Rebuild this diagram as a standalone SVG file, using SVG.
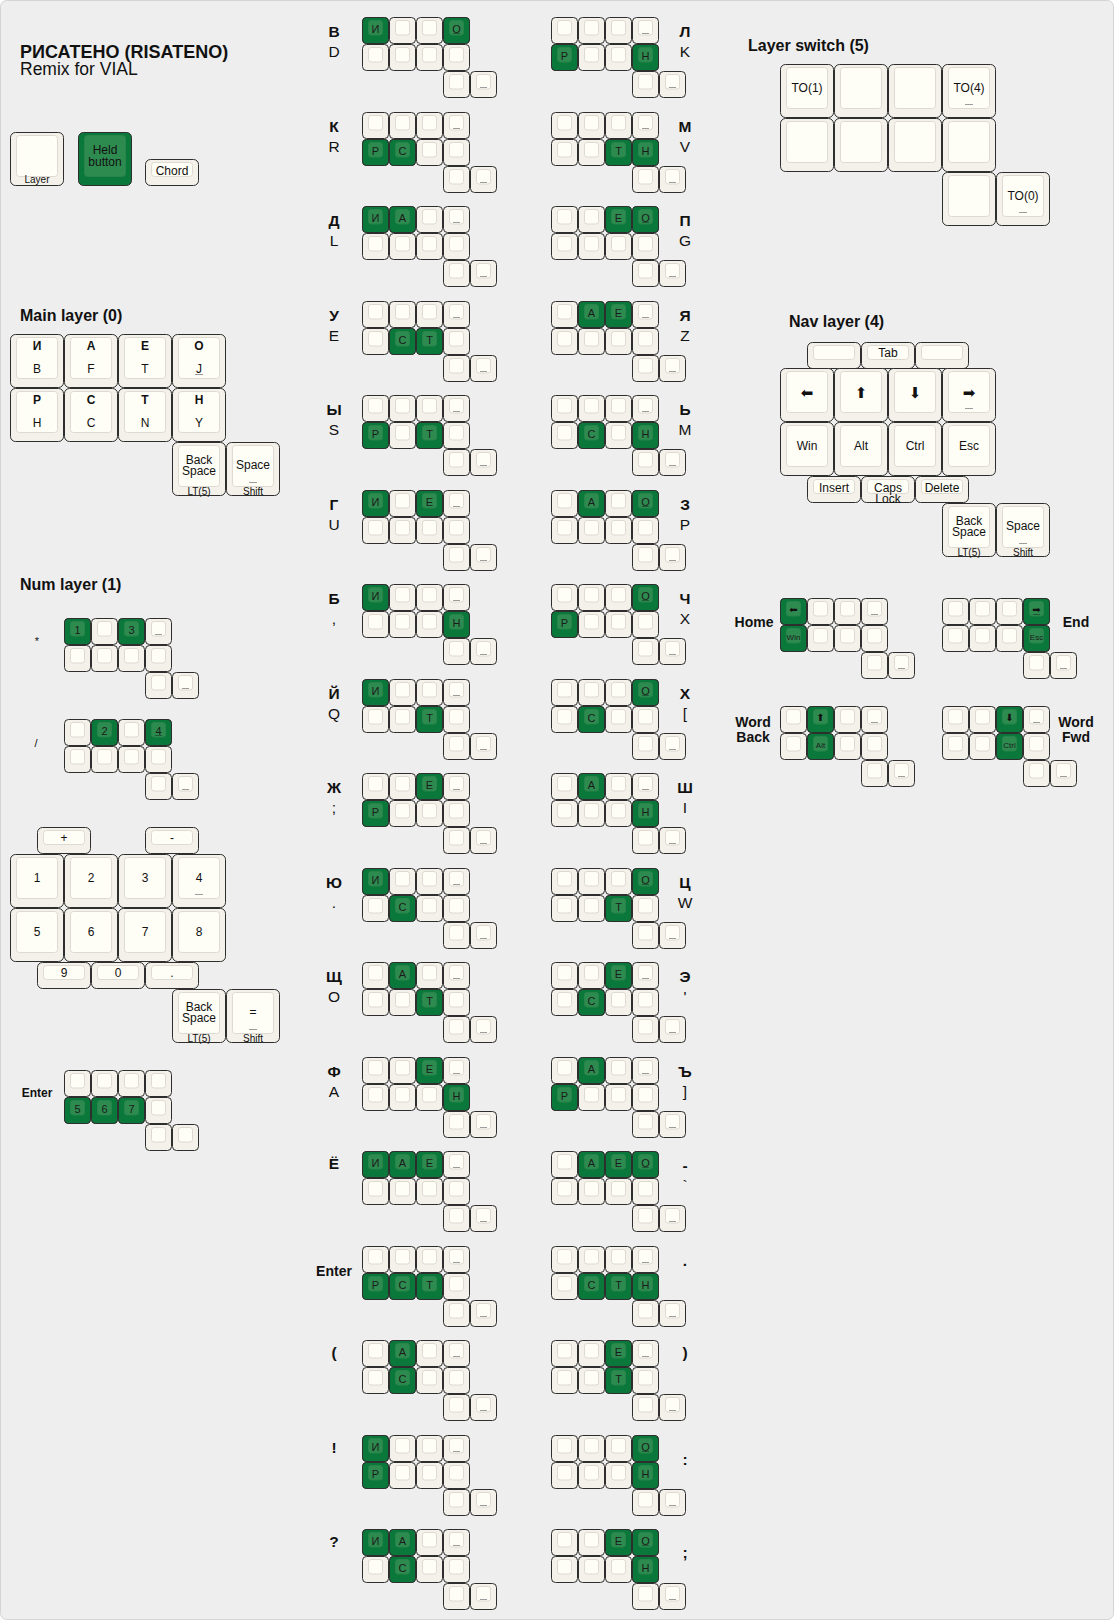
<svg xmlns="http://www.w3.org/2000/svg" width="1114" height="1620" viewBox="0 0 1114 1620">
<style>
text{font-family:"Liberation Sans",Arial,sans-serif;fill:#111}
.o{fill:#f4f1ea;stroke:#2e2e2e;stroke-width:1}
.i{fill:#fffef6;stroke:#dedad1;stroke-width:1}
.go{fill:#0a783b;stroke:#2e2e2e;stroke-width:1}
.gi{fill:#2e8b50;stroke:#27844a;stroke-width:1}
.bar{stroke:#9c9c9c;stroke-width:1}
.gbar{stroke:#1f5a35;stroke-width:1}
.h{font-size:16px;font-weight:bold}
.cl{font-size:15.5px;text-anchor:middle}
.cb{font-size:15.5px;font-weight:bold;text-anchor:middle}
.nb{font-size:14px;font-weight:bold;text-anchor:middle}
.k{font-size:12px;text-anchor:middle}
.kb{font-size:12px;font-weight:bold;text-anchor:middle}
.s{font-size:11px;text-anchor:middle;fill:#1b1b1b}
.f{font-size:10px;text-anchor:middle}
.t{font-size:8px;text-anchor:middle;fill:#1b1b1b}
.ar{font-family:"DejaVu Sans",sans-serif;text-anchor:middle}
.al{font-size:15px}
.as{font-size:10px}
</style>
<defs>
<g id="sk"><rect class="o" x="0.5" y="0.5" width="26" height="26" rx="4"/><rect class="i" x="6.5" y="3.5" width="14" height="14.5" rx="2.5"/></g>
<g id="skb"><use href="#sk"/><line class="bar" x1="10" y1="16.5" x2="17" y2="16.5"/></g>
<g id="sg"><rect class="go" x="0.5" y="0.5" width="26" height="26" rx="4"/><rect class="gi" x="6.5" y="3.5" width="14" height="14.5" rx="2.5"/></g>
<g id="sgb"><use href="#sg"/><line class="gbar" x1="10" y1="16.5" x2="17" y2="16.5"/></g>
<g id="lk"><rect class="o" x="0.5" y="0.5" width="53" height="53" rx="5"/><rect class="i" x="6.5" y="3.5" width="41" height="41" rx="3"/></g>
<g id="lkb"><use href="#lk"/><line class="bar" x1="23" y1="40.5" x2="31" y2="40.5"/></g>
<g id="lg"><rect class="go" x="0.5" y="0.5" width="53" height="53" rx="5"/><rect class="gi" x="6.5" y="3.5" width="41" height="41" rx="3"/></g>
<g id="hk"><rect class="o" x="0.5" y="0.5" width="53" height="26" rx="5"/><rect class="i" x="6.5" y="3.5" width="41" height="14" rx="3"/></g>
<g id="cn">
<use href="#sk"/><use href="#sk" x="27"/><use href="#sk" x="54"/><use href="#sk" x="81"/>
<use href="#sk" y="27"/><use href="#sk" x="27" y="27"/><use href="#sk" x="54" y="27"/><use href="#sk" x="81" y="27"/>
<use href="#sk" x="81" y="54"/><use href="#sk" x="108" y="54"/>
</g>
<g id="cb">
<use href="#sk"/><use href="#sk" x="27"/><use href="#sk" x="54"/><use href="#skb" x="81"/>
<use href="#sk" y="27"/><use href="#sk" x="27" y="27"/><use href="#sk" x="54" y="27"/><use href="#sk" x="81" y="27"/>
<use href="#sk" x="81" y="54"/><use href="#skb" x="108" y="54"/>
</g>
</defs>

<rect x="0.5" y="0.5" width="1113" height="1619" rx="6" fill="#eeeeee" stroke="#d4d4d4"/>

<g id="title">
<text x="20" y="58" style="font-size:18px;font-weight:bold">РИСАТЕНО (RISATENO)</text>
<text x="20" y="75" style="font-size:17.5px">Remix for VIAL</text>
</g>

<g id="legend">
<g id="legend-layer"><use href="#lk" x="10" y="132"/><text class="f" x="37" y="183">Layer</text></g>
<g id="legend-held"><use href="#lg" x="78" y="132"/><text class="k" x="105" y="154">Held</text><text class="k" x="105" y="166">button</text></g>
<g id="legend-chord"><use href="#hk" x="145" y="159"/><text class="k" x="172" y="175">Chord</text></g>
</g>

<g id="main-layer">
<text class="h" x="20" y="321">Main layer (0)</text>
<use href="#lk" x="10" y="334"/><text class="kb" x="37" y="350">И</text><text class="k" x="37" y="373">B</text>
<use href="#lk" x="64" y="334"/><text class="kb" x="91" y="350">А</text><text class="k" x="91" y="373">F</text>
<use href="#lk" x="118" y="334"/><text class="kb" x="145" y="350">Е</text><text class="k" x="145" y="373">T</text>
<use href="#lkb" x="172" y="334"/><text class="kb" x="199" y="350">О</text><text class="k" x="199" y="373">J</text>
<use href="#lk" x="10" y="388"/><text class="kb" x="37" y="404">Р</text><text class="k" x="37" y="427">H</text>
<use href="#lk" x="64" y="388"/><text class="kb" x="91" y="404">С</text><text class="k" x="91" y="427">C</text>
<use href="#lk" x="118" y="388"/><text class="kb" x="145" y="404">Т</text><text class="k" x="145" y="427">N</text>
<use href="#lk" x="172" y="388"/><text class="kb" x="199" y="404">Н</text><text class="k" x="199" y="427">Y</text>
<use href="#lk" x="172" y="442"/><text class="k" x="199" y="463.5">Back</text><text class="k" x="199" y="475">Space</text><text class="f" x="199" y="494.5">LT(5)</text>
<use href="#lkb" x="226" y="442"/><text class="k" x="253" y="469">Space</text><text class="f" x="253" y="494.5">Shift</text>
</g>

<g id="num-layer">
<text class="h" x="20" y="590">Num layer (1)</text>
<g id="num-chord-star" transform="translate(64,618)"><use href="#cb"/><use href="#sg"/><text class="s" x="13.5" y="15.5">1</text><use href="#sg" x="54"/><text class="s" x="67.5" y="15.5">3</text><text class="k" x="-27" y="27" style="font-size:11px">*</text></g>
<g id="num-chord-slash" transform="translate(64,719)"><use href="#cb"/><use href="#sg" x="27"/><text class="s" x="40.5" y="15.5">2</text><use href="#sgb" x="81"/><text class="s" x="94.5" y="15.5">4</text><text class="k" x="-28" y="27.5" style="font-size:11px">/</text></g>
<use href="#hk" x="37" y="827"/><text class="k" x="64" y="842">+</text>
<use href="#hk" x="145" y="827"/><text class="k" x="172" y="842">-</text>
<use href="#lk" x="10" y="854"/><text class="k" x="37" y="882">1</text>
<use href="#lk" x="64" y="854"/><text class="k" x="91" y="882">2</text>
<use href="#lk" x="118" y="854"/><text class="k" x="145" y="882">3</text>
<use href="#lkb" x="172" y="854"/><text class="k" x="199" y="882">4</text>
<use href="#lk" x="10" y="908"/><text class="k" x="37" y="936">5</text>
<use href="#lk" x="64" y="908"/><text class="k" x="91" y="936">6</text>
<use href="#lk" x="118" y="908"/><text class="k" x="145" y="936">7</text>
<use href="#lk" x="172" y="908"/><text class="k" x="199" y="936">8</text>
<use href="#hk" x="37" y="962"/><text class="k" x="64" y="977">9</text>
<use href="#hk" x="91" y="962"/><text class="k" x="118" y="977">0</text>
<use href="#hk" x="145" y="962"/><text class="k" x="172" y="977">.</text>
<use href="#lk" x="172" y="989"/><text class="k" x="199" y="1010.5">Back</text><text class="k" x="199" y="1022">Space</text><text class="f" x="199" y="1041.5">LT(5)</text>
<use href="#lkb" x="226" y="989"/><text class="k" x="253" y="1016">=</text><text class="f" x="253" y="1041.5">Shift</text>
<g id="num-chord-enter" transform="translate(64,1070)"><use href="#cn"/><use href="#sg" y="27"/><text class="s" x="13.5" y="42.5">5</text><use href="#sg" x="27" y="27"/><text class="s" x="40.5" y="42.5">6</text><use href="#sg" x="54" y="27"/><text class="s" x="67.5" y="42.5">7</text><text class="kb" x="-27" y="27">Enter</text></g>
</g>

<g id="layer-switch">
<text class="h" x="748" y="50.7">Layer switch (5)</text>
<use href="#lk" x="780" y="64"/><text class="k" x="807" y="92">TO(1)</text>
<use href="#lk" x="834" y="64"/>
<use href="#lk" x="888" y="64"/>
<use href="#lkb" x="942" y="64"/><text class="k" x="969" y="92">TO(4)</text>
<use href="#lk" x="780" y="118"/>
<use href="#lk" x="834" y="118"/>
<use href="#lk" x="888" y="118"/>
<use href="#lk" x="942" y="118"/>
<use href="#lk" x="942" y="172"/>
<use href="#lkb" x="996" y="172"/><text class="k" x="1023" y="200">TO(0)</text>
</g>

<g id="nav-layer">
<text class="h" x="789" y="327.3">Nav layer (4)</text>
<use href="#hk" x="807" y="342"/>
<use href="#hk" x="861" y="342"/><text class="k" x="888" y="357">Tab</text>
<use href="#hk" x="915" y="342"/>
<use href="#lk" x="780" y="368"/><text class="ar al" x="807" y="398">⬅</text>
<use href="#lk" x="834" y="368"/><text class="ar al" x="861" y="398">⬆</text>
<use href="#lk" x="888" y="368"/><text class="ar al" x="915" y="398">⬇</text>
<use href="#lkb" x="942" y="368"/><text class="ar al" x="969" y="398">➡</text>
<use href="#lk" x="780" y="422"/><text class="k" x="807" y="450">Win</text>
<use href="#lk" x="834" y="422"/><text class="k" x="861" y="450">Alt</text>
<use href="#lk" x="888" y="422"/><text class="k" x="915" y="450">Ctrl</text>
<use href="#lk" x="942" y="422"/><text class="k" x="969" y="450">Esc</text>
<use href="#hk" x="807" y="476"/><text class="k" x="834" y="492">Insert</text>
<use href="#hk" x="861" y="476"/><text class="k" x="888" y="491.5">Caps</text><text class="k" x="888" y="502.5">Lock</text>
<use href="#hk" x="915" y="476"/><text class="k" x="942" y="492">Delete</text>
<use href="#lk" x="942" y="503"/><text class="k" x="969" y="524.5">Back</text><text class="k" x="969" y="536">Space</text><text class="f" x="969" y="555.5">LT(5)</text>
<use href="#lkb" x="996" y="503"/><text class="k" x="1023" y="530">Space</text><text class="f" x="1023" y="555.5">Shift</text>
</g>

<g id="nav-chord-home" transform="translate(780,598)"><use href="#cb"/><use href="#sg"/><text class="ar as" x="13.5" y="14.5">⬅</text><use href="#sg" y="27"/><text class="t" x="13.5" y="41.5">Win</text><text class="nb" x="-26" y="29.3">Home</text></g>
<g id="nav-chord-end" transform="translate(942,598)"><use href="#cb"/><use href="#sgb" x="81"/><text class="ar as" x="94.5" y="14.5">➡</text><use href="#sg" x="81" y="27"/><text class="t" x="94.5" y="41.5">Esc</text><text class="nb" x="134" y="29.3">End</text></g>
<g id="nav-chord-wordback" transform="translate(780,706)"><use href="#cb"/><use href="#sg" x="27"/><text class="ar as" x="40.5" y="14.5">⬆</text><use href="#sg" x="27" y="27"/><text class="t" x="40.5" y="41.5">Alt</text><text class="nb" x="-27" y="21">Word</text><text class="nb" x="-27" y="36">Back</text></g>
<g id="nav-chord-wordfwd" transform="translate(942,706)"><use href="#cb"/><use href="#sg" x="54"/><text class="ar as" x="67.5" y="14.5">⬇</text><use href="#sg" x="54" y="27"/><text class="t" x="67.5" y="41.5">Ctrl</text><text class="nb" x="134" y="21">Word</text><text class="nb" x="134" y="36">Fwd</text></g>

<g id="chords-left">
<g id="chord-v" transform="translate(362,17)"><use href="#cb"/><use href="#sg"/><text class="s" x="13.5" y="15.5">И</text><use href="#sgb" x="81"/><text class="s" x="94.5" y="15.5">О</text><text class="cb" x="-28" y="20">В</text><text class="cl" x="-28" y="40">D</text></g>
<g id="chord-k" transform="translate(362,112)"><use href="#cb"/><use href="#sg" y="27"/><text class="s" x="13.5" y="42.5">Р</text><use href="#sg" x="27" y="27"/><text class="s" x="40.5" y="42.5">С</text><text class="cb" x="-28" y="20">К</text><text class="cl" x="-28" y="40">R</text></g>
<g id="chord-d" transform="translate(362,206)"><use href="#cb"/><use href="#sg"/><text class="s" x="13.5" y="15.5">И</text><use href="#sg" x="27"/><text class="s" x="40.5" y="15.5">А</text><text class="cb" x="-28" y="20">Д</text><text class="cl" x="-28" y="40">L</text></g>
<g id="chord-u" transform="translate(362,301)"><use href="#cb"/><use href="#sg" x="27" y="27"/><text class="s" x="40.5" y="42.5">С</text><use href="#sg" x="54" y="27"/><text class="s" x="67.5" y="42.5">Т</text><text class="cb" x="-28" y="20">У</text><text class="cl" x="-28" y="40">E</text></g>
<g id="chord-y" transform="translate(362,395)"><use href="#cb"/><use href="#sg" y="27"/><text class="s" x="13.5" y="42.5">Р</text><use href="#sg" x="54" y="27"/><text class="s" x="67.5" y="42.5">Т</text><text class="cb" x="-28" y="20">Ы</text><text class="cl" x="-28" y="40">S</text></g>
<g id="chord-g" transform="translate(362,490)"><use href="#cb"/><use href="#sg"/><text class="s" x="13.5" y="15.5">И</text><use href="#sg" x="54"/><text class="s" x="67.5" y="15.5">Е</text><text class="cb" x="-28" y="20">Г</text><text class="cl" x="-28" y="40">U</text></g>
<g id="chord-b" transform="translate(362,584)"><use href="#cb"/><use href="#sg"/><text class="s" x="13.5" y="15.5">И</text><use href="#sg" x="81" y="27"/><text class="s" x="94.5" y="42.5">Н</text><text class="cb" x="-28" y="20">Б</text><text class="cl" x="-28" y="40">,</text></g>
<g id="chord-j" transform="translate(362,679)"><use href="#cb"/><use href="#sg"/><text class="s" x="13.5" y="15.5">И</text><use href="#sg" x="54" y="27"/><text class="s" x="67.5" y="42.5">Т</text><text class="cb" x="-28" y="20">Й</text><text class="cl" x="-28" y="40">Q</text></g>
<g id="chord-zh" transform="translate(362,773)"><use href="#cb"/><use href="#sg" x="54"/><text class="s" x="67.5" y="15.5">Е</text><use href="#sg" y="27"/><text class="s" x="13.5" y="42.5">Р</text><text class="cb" x="-28" y="20">Ж</text><text class="cl" x="-28" y="40">;</text></g>
<g id="chord-yu" transform="translate(362,868)"><use href="#cb"/><use href="#sg"/><text class="s" x="13.5" y="15.5">И</text><use href="#sg" x="27" y="27"/><text class="s" x="40.5" y="42.5">С</text><text class="cb" x="-28" y="20">Ю</text><text class="cl" x="-28" y="40">.</text></g>
<g id="chord-shch" transform="translate(362,962)"><use href="#cb"/><use href="#sg" x="27"/><text class="s" x="40.5" y="15.5">А</text><use href="#sg" x="54" y="27"/><text class="s" x="67.5" y="42.5">Т</text><text class="cb" x="-28" y="20">Щ</text><text class="cl" x="-28" y="40">O</text></g>
<g id="chord-f" transform="translate(362,1057)"><use href="#cb"/><use href="#sg" x="54"/><text class="s" x="67.5" y="15.5">Е</text><use href="#sg" x="81" y="27"/><text class="s" x="94.5" y="42.5">Н</text><text class="cb" x="-28" y="20">Ф</text><text class="cl" x="-28" y="40">A</text></g>
<g id="chord-yo" transform="translate(362,1151)"><use href="#cb"/><use href="#sg"/><text class="s" x="13.5" y="15.5">И</text><use href="#sg" x="27"/><text class="s" x="40.5" y="15.5">А</text><use href="#sg" x="54"/><text class="s" x="67.5" y="15.5">Е</text><text class="cb" x="-28" y="18">Ё</text></g>
<g id="chord-enter" transform="translate(362,1246)"><use href="#cb"/><use href="#sg" y="27"/><text class="s" x="13.5" y="42.5">Р</text><use href="#sg" x="27" y="27"/><text class="s" x="40.5" y="42.5">С</text><use href="#sg" x="54" y="27"/><text class="s" x="67.5" y="42.5">Т</text><text class="nb" x="-28" y="29.5">Enter</text></g>
<g id="chord-lparen" transform="translate(362,1340)"><use href="#cb"/><use href="#sg" x="27"/><text class="s" x="40.5" y="15.5">А</text><use href="#sg" x="27" y="27"/><text class="s" x="40.5" y="42.5">С</text><text class="cb" x="-28" y="18">(</text></g>
<g id="chord-excl" transform="translate(362,1435)"><use href="#cb"/><use href="#sg"/><text class="s" x="13.5" y="15.5">И</text><use href="#sg" y="27"/><text class="s" x="13.5" y="42.5">Р</text><text class="cb" x="-28" y="18">!</text></g>
<g id="chord-quest" transform="translate(362,1529)"><use href="#cb"/><use href="#sg"/><text class="s" x="13.5" y="15.5">И</text><use href="#sg" x="27"/><text class="s" x="40.5" y="15.5">А</text><use href="#sg" x="27" y="27"/><text class="s" x="40.5" y="42.5">С</text><text class="cb" x="-28" y="18">?</text></g>
</g>

<g id="chords-right">
<g id="chord-l" transform="translate(551,17)"><use href="#cb"/><use href="#sg" y="27"/><text class="s" x="13.5" y="42.5">Р</text><use href="#sg" x="81" y="27"/><text class="s" x="94.5" y="42.5">Н</text><text class="cb" x="134" y="20">Л</text><text class="cl" x="134" y="40">K</text></g>
<g id="chord-m" transform="translate(551,112)"><use href="#cb"/><use href="#sg" x="54" y="27"/><text class="s" x="67.5" y="42.5">Т</text><use href="#sg" x="81" y="27"/><text class="s" x="94.5" y="42.5">Н</text><text class="cb" x="134" y="20">М</text><text class="cl" x="134" y="40">V</text></g>
<g id="chord-p" transform="translate(551,206)"><use href="#cb"/><use href="#sg" x="54"/><text class="s" x="67.5" y="15.5">Е</text><use href="#sgb" x="81"/><text class="s" x="94.5" y="15.5">О</text><text class="cb" x="134" y="20">П</text><text class="cl" x="134" y="40">G</text></g>
<g id="chord-ya" transform="translate(551,301)"><use href="#cb"/><use href="#sg" x="27"/><text class="s" x="40.5" y="15.5">А</text><use href="#sg" x="54"/><text class="s" x="67.5" y="15.5">Е</text><text class="cb" x="134" y="20">Я</text><text class="cl" x="134" y="40">Z</text></g>
<g id="chord-soft" transform="translate(551,395)"><use href="#cb"/><use href="#sg" x="27" y="27"/><text class="s" x="40.5" y="42.5">С</text><use href="#sg" x="81" y="27"/><text class="s" x="94.5" y="42.5">Н</text><text class="cb" x="134" y="20">Ь</text><text class="cl" x="134" y="40">M</text></g>
<g id="chord-z" transform="translate(551,490)"><use href="#cb"/><use href="#sg" x="27"/><text class="s" x="40.5" y="15.5">А</text><use href="#sgb" x="81"/><text class="s" x="94.5" y="15.5">О</text><text class="cb" x="134" y="20">З</text><text class="cl" x="134" y="40">P</text></g>
<g id="chord-ch" transform="translate(551,584)"><use href="#cb"/><use href="#sgb" x="81"/><text class="s" x="94.5" y="15.5">О</text><use href="#sg" y="27"/><text class="s" x="13.5" y="42.5">Р</text><text class="cb" x="134" y="20">Ч</text><text class="cl" x="134" y="40">X</text></g>
<g id="chord-h" transform="translate(551,679)"><use href="#cb"/><use href="#sgb" x="81"/><text class="s" x="94.5" y="15.5">О</text><use href="#sg" x="27" y="27"/><text class="s" x="40.5" y="42.5">С</text><text class="cb" x="134" y="20">Х</text><text class="cl" x="134" y="40">[</text></g>
<g id="chord-sh" transform="translate(551,773)"><use href="#cb"/><use href="#sg" x="27"/><text class="s" x="40.5" y="15.5">А</text><use href="#sg" x="81" y="27"/><text class="s" x="94.5" y="42.5">Н</text><text class="cb" x="134" y="20">Ш</text><text class="cl" x="134" y="40">I</text></g>
<g id="chord-ts" transform="translate(551,868)"><use href="#cb"/><use href="#sgb" x="81"/><text class="s" x="94.5" y="15.5">О</text><use href="#sg" x="54" y="27"/><text class="s" x="67.5" y="42.5">Т</text><text class="cb" x="134" y="20">Ц</text><text class="cl" x="134" y="40">W</text></g>
<g id="chord-e" transform="translate(551,962)"><use href="#cb"/><use href="#sg" x="54"/><text class="s" x="67.5" y="15.5">Е</text><use href="#sg" x="27" y="27"/><text class="s" x="40.5" y="42.5">С</text><text class="cb" x="134" y="20">Э</text><text class="cl" x="134" y="40">'</text></g>
<g id="chord-hard" transform="translate(551,1057)"><use href="#cb"/><use href="#sg" x="27"/><text class="s" x="40.5" y="15.5">А</text><use href="#sg" y="27"/><text class="s" x="13.5" y="42.5">Р</text><text class="cb" x="134" y="20">Ъ</text><text class="cl" x="134" y="40">]</text></g>
<g id="chord-dash" transform="translate(551,1151)"><use href="#cb"/><use href="#sg" x="27"/><text class="s" x="40.5" y="15.5">А</text><use href="#sg" x="54"/><text class="s" x="67.5" y="15.5">Е</text><use href="#sgb" x="81"/><text class="s" x="94.5" y="15.5">О</text><text class="cb" x="134" y="20">-</text><text class="cl" x="134" y="40">`</text></g>
<g id="chord-dot" transform="translate(551,1246)"><use href="#cb"/><use href="#sg" x="27" y="27"/><text class="s" x="40.5" y="42.5">С</text><use href="#sg" x="54" y="27"/><text class="s" x="67.5" y="42.5">Т</text><use href="#sg" x="81" y="27"/><text class="s" x="94.5" y="42.5">Н</text><text class="cb" x="134" y="20">.</text></g>
<g id="chord-rparen" transform="translate(551,1340)"><use href="#cb"/><use href="#sg" x="54"/><text class="s" x="67.5" y="15.5">Е</text><use href="#sg" x="54" y="27"/><text class="s" x="67.5" y="42.5">Т</text><text class="cb" x="134" y="18">)</text></g>
<g id="chord-colon" transform="translate(551,1435)"><use href="#cb"/><use href="#sgb" x="81"/><text class="s" x="94.5" y="15.5">О</text><use href="#sg" x="81" y="27"/><text class="s" x="94.5" y="42.5">Н</text><text class="cb" x="134" y="29.5">:</text></g>
<g id="chord-semi" transform="translate(551,1529)"><use href="#cb"/><use href="#sg" x="54"/><text class="s" x="67.5" y="15.5">Е</text><use href="#sgb" x="81"/><text class="s" x="94.5" y="15.5">О</text><use href="#sg" x="81" y="27"/><text class="s" x="94.5" y="42.5">Н</text><text class="cb" x="134" y="29">;</text></g>
</g>

<g id="connectors"/>
</svg>
